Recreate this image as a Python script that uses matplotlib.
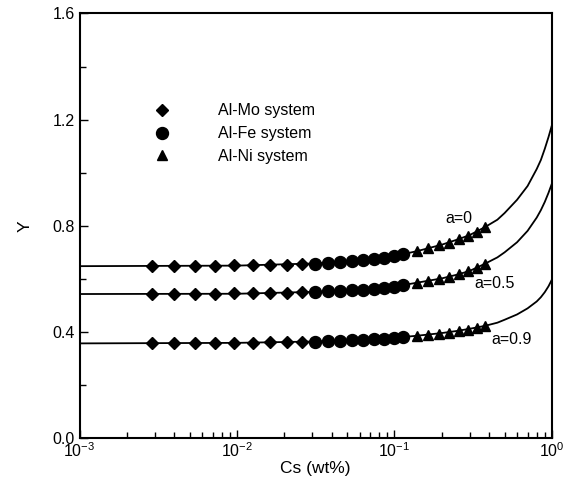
import matplotlib
matplotlib.use("Agg")
import matplotlib.pyplot as plt
from matplotlib.ticker import FixedLocator, NullFormatter, FixedFormatter, LogLocator

plt.rcParams['font.family'] = ['Liberation Sans', 'DejaVu Sans']
plt.rcParams['mathtext.fontset'] = 'custom'
plt.rcParams['mathtext.rm'] = 'Liberation Sans'
plt.rcParams['mathtext.it'] = 'Liberation Sans:italic'
plt.rcParams['mathtext.bf'] = 'Liberation Sans:bold'
plt.rcParams['mathtext.sf'] = 'Liberation Sans'

# Marker x positions (Cs, wt%)
cs_mo = [0.0029, 0.0040, 0.0054, 0.00725, 0.0096, 0.0126, 0.0162, 0.0208, 0.026]
cs_fe = [0.0314, 0.0379, 0.0450, 0.0534, 0.0633, 0.0742, 0.0859, 0.0994, 0.1136]
cs_ni = [0.138, 0.1636, 0.1919, 0.2224, 0.2563, 0.2914, 0.3318, 0.3747]

# Marker Y values for each a
y_mo = {
    "0":   [0.648, 0.649, 0.649, 0.650, 0.651, 0.652, 0.653, 0.654, 0.656],
    "0.5": [0.543, 0.543, 0.544, 0.544, 0.545, 0.546, 0.547, 0.548, 0.549],
    "0.9": [0.358, 0.358, 0.359, 0.359, 0.360, 0.360, 0.361, 0.362, 0.363],
}
y_fe = {
    "0":   [0.658, 0.661, 0.664, 0.667, 0.671, 0.675, 0.680, 0.686, 0.692],
    "0.5": [0.551, 0.553, 0.555, 0.557, 0.560, 0.563, 0.567, 0.571, 0.576],
    "0.9": [0.364, 0.366, 0.367, 0.369, 0.371, 0.373, 0.375, 0.378, 0.381],
}
y_ni = {
    "0":   [0.705, 0.715, 0.726, 0.737, 0.750, 0.763, 0.778, 0.795],
    "0.5": [0.585, 0.593, 0.601, 0.609, 0.618, 0.628, 0.642, 0.658],
    "0.9": [0.385, 0.389, 0.393, 0.398, 0.403, 0.408, 0.414, 0.421],
}

# Model curves
cs_curve = [0.001, 0.01, 0.03, 0.05, 0.07, 0.1, 0.14, 0.2, 0.25, 0.3, 0.375,
            0.45, 0.5, 0.6, 0.7, 0.8, 0.85, 0.9, 0.95, 1.0]
y_curve = {
    "0":   [0.648, 0.650, 0.658, 0.665, 0.673, 0.686, 0.705, 0.729, 0.748, 0.765,
            0.795, 0.823, 0.848, 0.898, 0.950, 1.014, 1.048, 1.090, 1.134, 1.180],
    "0.5": [0.543, 0.544, 0.551, 0.556, 0.562, 0.571, 0.586, 0.602, 0.616, 0.630,
            0.657, 0.681, 0.700, 0.738, 0.781, 0.831, 0.859, 0.890, 0.924, 0.960],
    "0.9": [0.357, 0.359, 0.364, 0.368, 0.372, 0.378, 0.386, 0.396, 0.404, 0.412,
            0.423, 0.435, 0.446, 0.466, 0.489, 0.515, 0.531, 0.550, 0.572, 0.598],
}

curve_labels = {"0": "a=0", "0.5": "a=0.5", "0.9": "a=0.9"}
label_pos = {"0": (0.256, 0.829), "0.5": (0.433, 0.584), "0.9": (0.556, 0.373)}

legend_labels = ["Al-Mo system", "Al-Fe system", "Al-Ni system"]

xticks = [1e-3, 1e-2, 1e-1, 1e0]
xtick_labels = [r"$10^{-3}$", r"$10^{-2}$", r"$10^{-1}$", r"$10^{0}$"]
yticks = [0.0, 0.4, 0.8, 1.2, 1.6]
ytick_labels = ["0.0", "0.4", "0.8", "1.2", "1.6"]

fig = plt.figure(figsize=(5.72, 4.82), dpi=100)
ax = fig.add_axes([0.139, 0.091, 0.826, 0.881])

for key in ["0", "0.5", "0.9"]:
    ax.plot(cs_curve, y_curve[key], color='black', lw=1.3, zorder=2)
    ax.plot(cs_mo, y_mo[key], linestyle='none', marker='D', ms=6.3, color='black', zorder=3)
    ax.plot(cs_fe, y_fe[key], linestyle='none', marker='o', ms=8.6, color='black', zorder=3)
    ax.plot(cs_ni, y_ni[key], linestyle='none', marker='^', ms=7.0, color='black', zorder=3)
    ax.text(label_pos[key][0], label_pos[key][1], curve_labels[key], fontsize=11.5,
            ha='center', va='center')

# legend handles
h1, = ax.plot([], [], linestyle='none', marker='D', ms=6.3, color='black')
h2, = ax.plot([], [], linestyle='none', marker='o', ms=8.6, color='black')
h3, = ax.plot([], [], linestyle='none', marker='^', ms=7.0, color='black')
ax.legend([h1, h2, h3], legend_labels, loc='upper left', bbox_to_anchor=(0.14, 0.807),
          frameon=False, fontsize=11.5, handletextpad=3.0, labelspacing=0.48,
          handlelength=1.0, borderpad=0)

ax.set_xscale('log')
ax.set_xlim(1e-3, 1.0)
ax.set_ylim(0.0, 1.6)

ax.xaxis.set_major_locator(FixedLocator(xticks))
ax.xaxis.set_major_formatter(FixedFormatter(xtick_labels))
ax.xaxis.set_minor_locator(LogLocator(base=10, subs=range(2, 10)))
ax.xaxis.set_minor_formatter(NullFormatter())
ax.yaxis.set_major_locator(FixedLocator(yticks))
ax.yaxis.set_major_formatter(FixedFormatter(ytick_labels))
ax.yaxis.set_minor_locator(FixedLocator([0.2, 0.6, 1.0, 1.4]))

ax.tick_params(which='both', direction='in', top=False, right=False, labelsize=11.5, width=1.0)
ax.tick_params(which='major', length=6)
ax.tick_params(which='minor', length=4)
ax.tick_params(axis='x', pad=2)

for s in ax.spines.values():
    s.set_linewidth(1.5)

ax.set_xlabel("Cs (wt%)", fontsize=12.5, labelpad=1)
ax.set_ylabel("Y", fontsize=12.5, labelpad=14)

fig.savefig("out.png", dpi=100)
